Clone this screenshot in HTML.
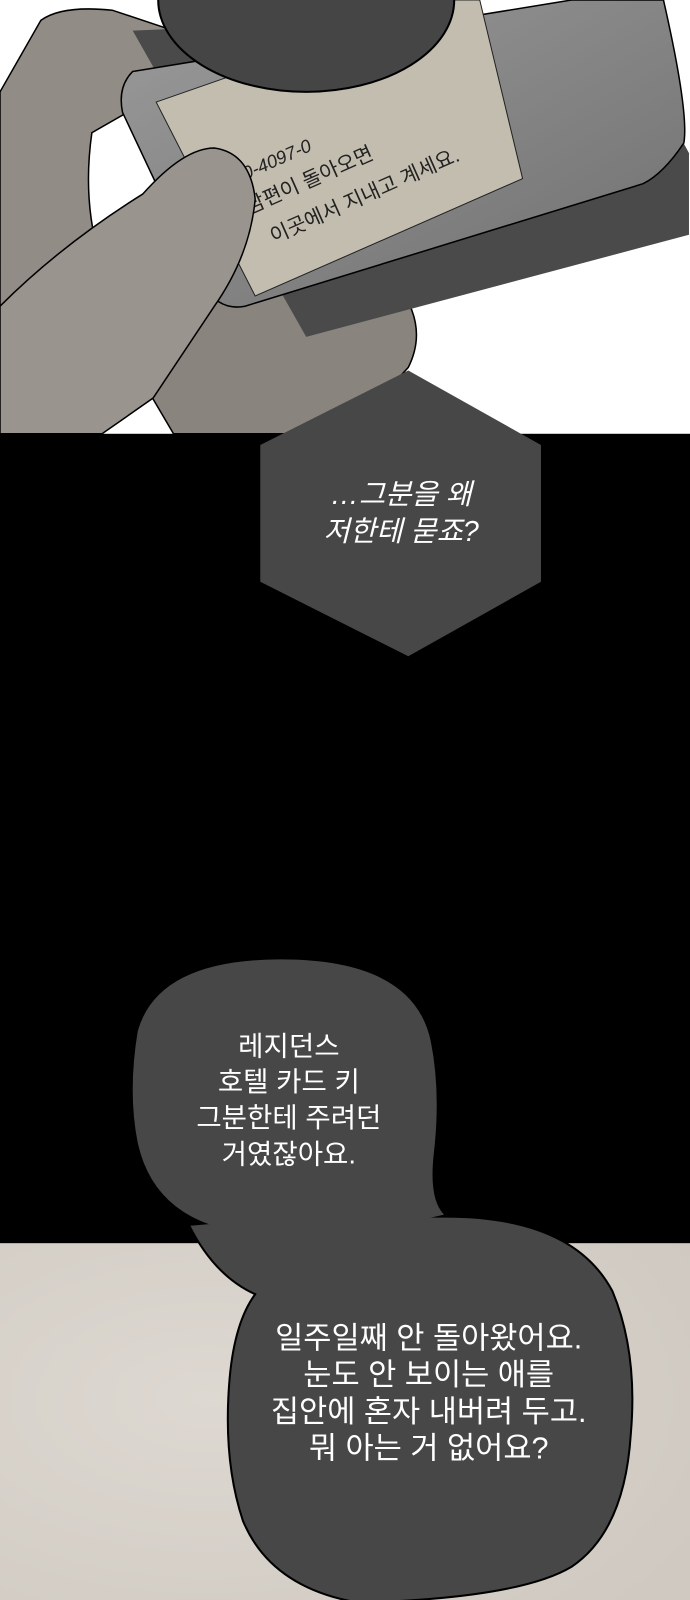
<!DOCTYPE html>
<html><head><meta charset="utf-8">
<style>
html,body{margin:0;padding:0;background:#000;}
svg{display:block;}
text{font-family:"Liberation Sans","Noto Sans CJK KR",sans-serif;fill:#fff;}
</style></head>
<body>
<svg width="690" height="1600" viewBox="0 0 676 1567.6" preserveAspectRatio="none" xmlns="http://www.w3.org/2000/svg">
<defs>
<linearGradient id="card" x1="0" y1="0" x2="1" y2="1">
<stop offset="0" stop-color="#9a9a9a"/><stop offset="1" stop-color="#707070"/></linearGradient>
<radialGradient id="bg2" cx="0.3" cy="0.4" r="0.8">
<stop offset="0" stop-color="#ddd8d1"/><stop offset="1" stop-color="#cfc9c1"/></radialGradient>
</defs>
<rect width="676" height="1568" fill="#000"/>
<rect x="0" y="0" width="677" height="425" fill="#fff"/>
<path d="M0,90 L40,20 Q60,5 110,10 L200,40 L160,90 L90,130 Q80,200 100,260 L60,425 L0,425 Z" fill="#928c87" stroke="#000" stroke-width="1.5"/>
<path d="M90,230 L250,200 L390,280 Q420,320 400,360 L340,425 L170,425 L120,340 Z" fill="#8a847f" stroke="#000" stroke-width="1.5"/>
<path d="M130,30 L600,10 L675,150 L675,230 L300,330 Z" fill="#4a4a4a"/>
<path d="M130,70 L560,0 L650,0 Q675,110 670,140 Q650,170 630,180 L240,300 Q215,305 200,280 L120,110 Q115,85 130,70 Z" fill="url(#card)" stroke="#000" stroke-width="1.5"/>
<path d="M153,100 L440,0 L470,0 L512,175 L250,290 Z" fill="#c3bdaf" stroke="#222" stroke-width="1"/>
<g transform="rotate(-24 300 150)">
<text x="215" y="150" font-size="18" style="fill:#222;font-style:italic">010-4097-0</text>
<text x="225" y="182" font-size="20" style="fill:#222">남편이 돌아오면</text>
<text x="235" y="218" font-size="20" style="fill:#222">이곳에서 지내고 계세요.</text>
</g>
<path d="M210,145 Q245,150 250,195 Q245,250 210,300 L150,390 L100,425 L0,425 L0,300 Q60,240 140,190 Q180,145 210,145 Z" fill="#9a948f" stroke="#000" stroke-width="1.5"/>
<ellipse cx="300" cy="0" rx="145" ry="90" fill="#454545" stroke="#000" stroke-width="2"/>
<polygon points="400,363 530,436 530,570 400,643 255,570 255,436" fill="#474747"/>
<text x="393" y="494" font-size="28" text-anchor="middle" style="font-style:italic">…그분을 왜</text>
<text x="393" y="530" font-size="28" text-anchor="middle" style="font-style:italic">저한테 묻죠?</text>
<rect x="0" y="1218" width="677" height="382" fill="url(#bg2)"/>
<path d="M430,1192 Q560,1190 600,1265 Q625,1325 618,1405 Q612,1500 560,1535 Q510,1565 360,1570 L340,1600 L350,1570 Q265,1555 238,1490 Q218,1430 225,1350 Q230,1295 250,1268 Q210,1250 185,1200 L300,1190 Q370,1192 430,1192 Z" fill="#474747" stroke="#000" stroke-width="2"/>
<path d="M275,940 Q405,940 422,1020 Q432,1070 425,1130 Q420,1175 435,1190 L370,1205 Q320,1210 275,1210 Q155,1210 135,1120 Q125,1070 135,1010 Q155,940 275,940 Z" fill="#474747"/>
<text x="283" y="1034" font-size="27" text-anchor="middle">레지던스</text>
<text x="283" y="1069" font-size="27" text-anchor="middle">호텔 카드 키</text>
<text x="283" y="1104" font-size="27" text-anchor="middle">그분한테 주려던</text>
<text x="283" y="1140" font-size="27" text-anchor="middle">거였잖아요.</text>
<text x="420" y="1321" font-size="30" text-anchor="middle">일주일째 안 돌아왔어요.</text>
<text x="420" y="1357" font-size="30" text-anchor="middle">눈도 안 보이는 애를</text>
<text x="420" y="1393" font-size="30" text-anchor="middle">집안에 혼자 내버려 두고.</text>
<text x="420" y="1429" font-size="30" text-anchor="middle">뭐 아는 거 없어요?</text>
</svg>
</body></html>
